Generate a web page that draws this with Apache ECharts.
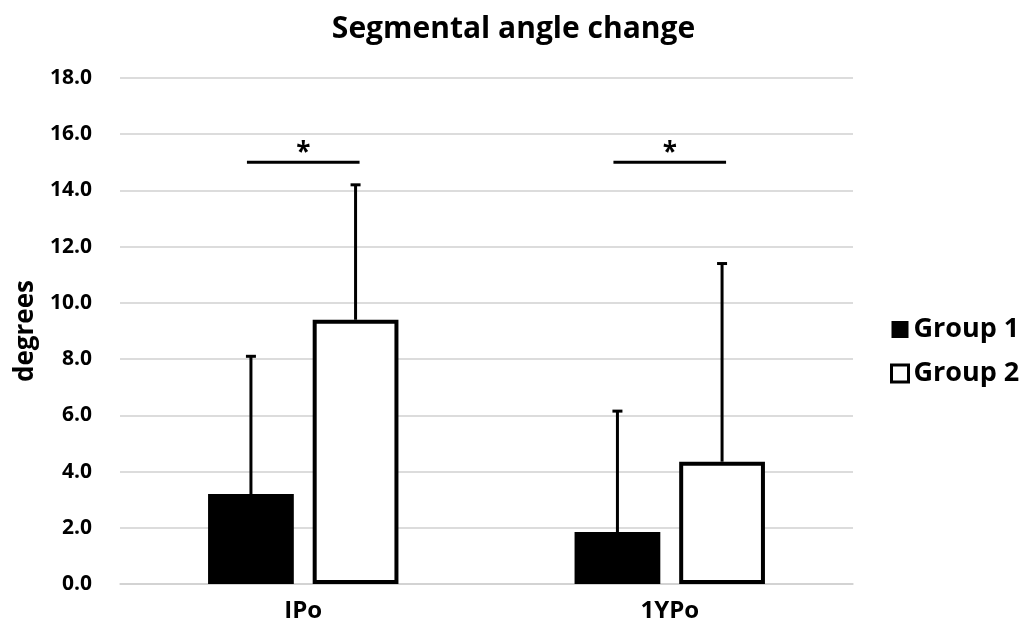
<!DOCTYPE html>
<html>
<head>
<meta charset="UTF-8">
<title>Segmental angle change</title>
<script type="text/javascript" src="https://cdn.jsdelivr.net/npm/echarts@6/dist/echarts.min.js"></script>
</head>
<body style="margin:0;background:#fff">

	<div id="chart" style="width:1027px; height:628px"></div>
	<script type="text/javascript">
	// data
	var categories = ['IPo', '1YPo'];
	var group1Mean = [3.2, 1.85];
	var group2Mean = [9.4, 4.35];
	var group1SD = [4.9, 4.3];
	var group2SD = [4.8, 7.05];
	var sigLevel = [15.0, 15.0];
	var sigMark = ['*', '*'];

	var FONT = '"Open Sans", "Noto Sans", sans-serif';
	var BAR_FRAC = 0.234, GAP_FRAC = 0.22;

	var myChart = echarts.init(document.getElementById('chart'));

	// upward error bar for one group; side -1 = left bar, 1 = right bar
	function errorBar(means, sds, side) {
		return function (params, api) {
			var i = api.value(0);
			var band = api.size([1, 0])[0];
			var bw = band * BAR_FRAC;
			var off = side * (bw + bw * GAP_FRAC) / 2;
			var base = api.coord([i, means[i]]);
			var top = api.coord([i, means[i] + sds[i]]);
			var x = base[0] + off;
			var st = { stroke: '#000', lineWidth: 3 };
			return {
				type: 'group',
				children: [
					{ type: 'line', shape: { x1: x, y1: base[1], x2: x, y2: top[1] }, style: st },
					{ type: 'line', shape: { x1: x - 5, y1: top[1], x2: x + 5, y2: top[1] }, style: st }
				]
			};
		};
	}

	// significance bracket between the two bars of one category
	function sigRender(params, api) {
		var i = api.value(0);
		var band = api.size([1, 0])[0];
		var bw = band * BAR_FRAC;
		var off = (bw + bw * GAP_FRAC) / 2;
		var p = api.coord([i, sigLevel[i]]);
		return {
			type: 'group',
			children: [
				{ type: 'line', shape: { x1: p[0] - off - 4, y1: p[1], x2: p[0] + off + 4, y2: p[1] },
				  style: { stroke: '#000', lineWidth: 3 } },
				{ type: 'text', x: p[0], y: p[1] + 4,
				  style: { text: sigMark[i], fill: '#000', font: 'bold 26px ' + FONT,
				           align: 'center', verticalAlign: 'bottom' } }
			]
		};
	}

	var option = {
		backgroundColor: '#fff',
		animation: false,
		title: {
			text: 'Segmental angle change',
			left: 'center',
			top: 9,
			textStyle: { fontFamily: FONT, fontWeight: 'bold', fontSize: 30, color: '#000' }
		},
		legend: {
			orient: 'vertical',
			left: 885,
			top: 311,
			itemWidth: 17,
			itemHeight: 17,
			itemGap: 17,
			icon: 'rect',
			textStyle: { fontFamily: FONT, fontWeight: 'bold', fontSize: 27, color: '#000' },
			data: [
				{ name: 'Group 1' },
				{ name: 'Group 2', itemStyle: { color: '#fff', borderColor: '#000', borderWidth: 3 } }
			]
		},
		grid: { left: 120, right: 174, top: 78, bottom: 44 },
		xAxis: {
			type: 'category',
			data: categories,
			axisLine: { show: true, lineStyle: { color: '#d0d0d0', width: 1.5 } },
			axisTick: { show: false },
			axisLabel: { margin: 15, fontFamily: FONT, fontWeight: 'bold', fontSize: 24, color: '#000' }
		},
		yAxis: {
			type: 'value',
			min: 0,
			max: 18,
			interval: 2,
			name: 'degrees',
			nameLocation: 'middle',
			nameGap: 77,
			nameRotate: 90,
			nameTextStyle: { fontFamily: FONT, fontWeight: 'bold', fontSize: 26, color: '#000' },
			axisLine: { show: false },
			axisTick: { show: false },
			axisLabel: {
				margin: 28,
				fontFamily: FONT, fontWeight: 'bold', fontSize: 21, color: '#000',
				formatter: function (v) { return v.toFixed(1); }
			},
			splitLine: { lineStyle: { color: '#d0d0d0', width: 1.5 } }
		},
		series: [
			{
				name: 'Group 1',
				type: 'bar',
				barWidth: (BAR_FRAC * 100) + '%',
				barGap: (GAP_FRAC * 100) + '%',
				itemStyle: { color: '#000' },
				data: group1Mean
			},
			{
				name: 'Group 2',
				type: 'bar',
				barWidth: (BAR_FRAC * 100) + '%',
				itemStyle: { color: '#fff', borderColor: '#000', borderWidth: 4 },
				data: group2Mean
			},
			{
				type: 'custom',
				renderItem: errorBar(group1Mean, group1SD, -1),
				data: categories.map(function (c, i) { return [i, group1Mean[i] + group1SD[i]]; }),
				z: 1
			},
			{
				type: 'custom',
				renderItem: errorBar(group2Mean, group2SD, 1),
				data: categories.map(function (c, i) { return [i, group2Mean[i] + group2SD[i]]; }),
				z: 1
			},
			{
				type: 'custom',
				renderItem: sigRender,
				data: categories.map(function (c, i) { return [i, sigLevel[i]]; }),
				z: 3
			}
		]
	};
	myChart.setOption(option);
	</script>
</body>
</html>
